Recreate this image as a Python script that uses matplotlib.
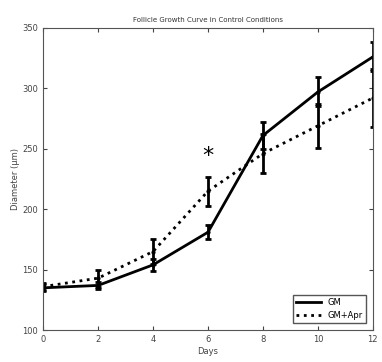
import matplotlib.pyplot as plt
from matplotlib.lines import Line2D
import numpy as np

# Datos
dias = [0, 2, 4, 6, 8, 10, 12]
gm = [135, 137, 154, 181, 261, 297, 326]
gm_err = [3, 3, 5, 6, 11, 12, 12]
gm_apr = [136, 143, 165, 215, 246, 269, 292]
gm_apr_err = [3, 7, 10, 12, 16, 18, 24]

fig = plt.figure(figsize=(3.82, 3.62), dpi=100)
ax = fig.add_axes([0.113, 0.088, 0.863, 0.835])

ax.errorbar(dias, gm, yerr=gm_err, color="black", linewidth=2, elinewidth=2,
            capsize=2.5, capthick=2, marker=".", markersize=4)
ax.errorbar(dias, gm_apr, yerr=gm_apr_err, color="black", linewidth=2, linestyle=":",
            elinewidth=2, capsize=2.5, capthick=2, marker=".", markersize=4)

ax.text(6, 244, "*", fontsize=16, ha="center", va="center")

ax.set_xlim(0, 12)
ax.set_ylim(100, 350)
ax.set_xticks(np.arange(0, 13, 2))
ax.set_yticks(np.arange(100, 351, 50))
ax.tick_params(direction="in", top=True, right=True, labelsize=6, length=3,
               colors="#444444", labelcolor="#444444")
for s in ax.spines.values():
    s.set_color("#555555")

ax.set_xlabel("Days", fontsize=6, color="#444444", labelpad=2)
ax.set_ylabel("Diameter (\u00b5m)", fontsize=6, color="#444444", labelpad=2)
ax.set_title("Follicle Growth Curve in Control Conditions", fontsize=5, color="#333333", pad=4)

handles = [Line2D([], [], color="black", linewidth=2),
           Line2D([], [], color="black", linewidth=2, linestyle=":")]
ax.legend(handles, ["GM", "GM+Apr"], loc="lower right", fontsize=6, handlelength=3,
          fancybox=False, edgecolor="#555555", framealpha=1, borderaxespad=0.8)

fig.savefig("out.png", dpi=100)
